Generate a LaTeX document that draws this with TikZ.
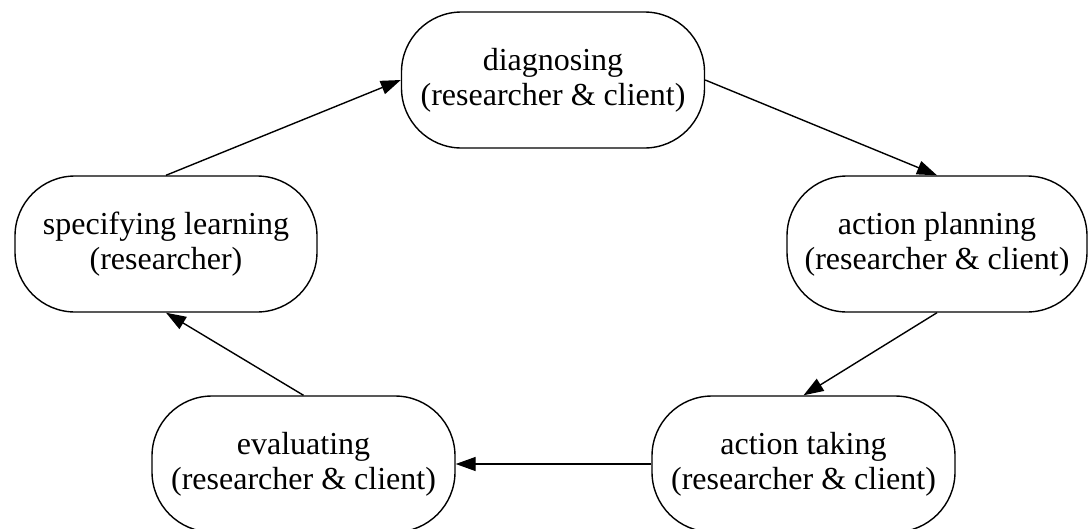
\documentclass[tikz,border=0pt]{standalone}
\usepackage{fontspec}
\setmainfont{Liberation Serif}
\usetikzlibrary{arrows.meta}
\begin{document}
\begin{tikzpicture}[x=1pt,y=-1pt,
  stage/.style={draw, line width=1.4pt, rounded corners=60pt, minimum width=303pt,
    minimum height=136pt, align=center, inner sep=0pt,
    font=\fontsize{32}{35}\selectfont},
  flow/.style={line width=1.4pt, -{Triangle[length=20pt,width=14pt]}}]
\useasboundingbox (0,0) rectangle (1088,528);
\clip (0,0) rectangle (1088,528);
\node[stage] (diag) at (553,80) {diagnosing\\(researcher \& client)};
\node[stage, minimum width=300pt] (plan) at (937,244) {action planning\\(researcher \& client)};
\node[stage] (take) at (803.5,464) {action taking\\(researcher \& client)};
\node[stage] (eval) at (303.5,464) {evaluating\\(researcher \& client)};
\node[stage, minimum width=302pt] (spec) at (166,244) {specifying learning\\(researcher)};
\draw[flow] (diag.east) -- (plan.north);
\draw[flow] (plan.south) -- (take.north);
\draw[flow] (take.west) -- (eval.east);
\draw[flow] (eval.north) -- (spec.south);
\draw[flow] (spec.north) -- (diag.west);
\end{tikzpicture}
\end{document}
